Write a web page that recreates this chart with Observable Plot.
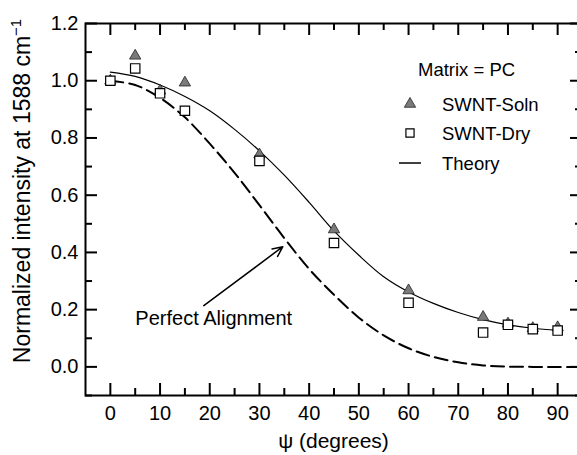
<!DOCTYPE html>
<html>
<head>
<meta charset="utf-8">
<script src="https://cdn.jsdelivr.net/npm/d3@7"></script>
<script src="https://cdn.jsdelivr.net/npm/@observablehq/plot@0.6"></script>
<style>
  html, body { margin: 0; padding: 0; background: #fff; overflow: hidden; }
  #chart { width: 577px; height: 455px; overflow: hidden; }
  #chart svg { max-width: none !important; }
</style>
</head>
<body>
<div id="chart"></div>
<script>
// Measured angles (degrees) and normalized 1588 cm-1 intensities
const angles   = [0, 5, 10, 15, 30, 45, 60, 75, 80, 85, 90];
const swntSoln = [1.0, 1.087, 0.965, 0.993, 0.742, 0.48, 0.267, 0.174, 0.151, 0.135, 0.138];
const swntDry  = [1.0, 1.043, 0.956, 0.895, 0.72, 0.433, 0.224, 0.12, 0.147, 0.132, 0.127];

// Theory curve (solid) sampled every 5 degrees
const theoryAngles = [0, 5, 10, 15, 20, 25, 30, 35, 40, 45, 50, 55, 60, 65, 70, 75, 80, 85, 90];
const theoryValues = [1.03, 1.015, 0.985, 0.945, 0.895, 0.83, 0.755, 0.67, 0.575, 0.475, 0.39, 0.315, 0.262, 0.222, 0.19, 0.165, 0.147, 0.135, 0.128];

// Perfect-alignment curve (dashed)
const perfectAngles = [0, 5, 10, 15, 20, 25, 30, 35, 40, 45, 50, 55, 60, 65, 70, 75, 80, 85, 90, 95];
const perfectValues = [1.0, 0.985, 0.94, 0.872, 0.78, 0.678, 0.565, 0.45, 0.342, 0.252, 0.172, 0.11, 0.065, 0.035, 0.016, 0.005, 0.001, 0, 0, 0];

// Axis ticks
const xMajor = [0, 10, 20, 30, 40, 50, 60, 70, 80, 90];
const xMinor = [5, 15, 25, 35, 45, 55, 65, 75, 85];
const yMajor = [0, 0.2, 0.4, 0.6, 0.8, 1.0, 1.2];
const yMinor = [-0.1, 0.1, 0.3, 0.5, 0.7, 0.9, 1.1];

// Annotation
const noteLabel = [{a: 20.8, v: 0.169, text: "Perfect Alignment"}];
const noteArrow = [{a1: 18.8, v1: 0.214, a2: 34.7, v2: 0.42}];

const solnData = angles.map((a, i) => ({a, v: swntSoln[i]}));
const dryData = angles.map((a, i) => ({a, v: swntDry[i]}));
const theory = theoryAngles.map((a, i) => ({a, v: theoryValues[i]}));
const perfect = perfectAngles.map((a, i) => ({a, v: perfectValues[i]}));

const W = 600, H = 455;
const mL = 85, mR = 18, mT = 23, mB = 60;
const plotH = H - mT - mB;
const plotW = W - mL - mR;
const font = "Arial, 'Liberation Sans', Helvetica, sans-serif";
const majorLen = 12, minorLen = 7;
const triR = 4.2, sqR = 5.3;

const svg = Plot.plot({
  width: W,
  height: H,
  marginLeft: mL, marginRight: mR, marginTop: mT, marginBottom: mB,
  style: {fontFamily: font, background: "white", color: "black", overflow: "visible", maxWidth: "none"},
  x: {domain: [-5, 95]},
  y: {domain: [-0.1, 1.2]},
  marks: [
    // inward ticks on all four sides
    Plot.ruleX(xMajor, {insetTop: plotH - majorLen, strokeWidth: 2}),
    Plot.ruleX(xMinor, {insetTop: plotH - minorLen, strokeWidth: 2}),
    Plot.ruleX(xMajor, {insetBottom: plotH - majorLen, strokeWidth: 2}),
    Plot.ruleX(xMinor, {insetBottom: plotH - minorLen, strokeWidth: 2}),
    Plot.ruleY(yMajor, {insetRight: plotW - majorLen, strokeWidth: 2}),
    Plot.ruleY(yMinor, {insetRight: plotW - minorLen, strokeWidth: 2}),
    Plot.ruleY(yMajor, {insetLeft: plotW - majorLen, strokeWidth: 2}),
    Plot.ruleY(yMinor, {insetLeft: plotW - minorLen, strokeWidth: 2}),
    Plot.frame({strokeWidth: 2}),
    Plot.axisX({ticks: xMajor, tickSize: 0, tickPadding: 10, fontSize: 20, label: null}),
    Plot.axisY({ticks: yMajor, tickSize: 0, tickPadding: 7, fontSize: 20, label: null, tickFormat: d3.format(".1f")}),
    // curves
    Plot.line(perfect, {x: "a", y: "v", curve: "catmull-rom", stroke: "black", strokeWidth: 2, strokeDasharray: "13,6"}),
    Plot.line(theory, {x: "a", y: "v", curve: "catmull-rom", stroke: "black", strokeWidth: 1.2}),
    // measurements
    Plot.dot(solnData, {x: "a", y: "v", symbol: "triangle", r: triR, fill: "#7a7a7a", stroke: "#222", strokeWidth: 0.8}),
    Plot.dot(dryData, {x: "a", y: "v", symbol: "square", r: sqR, fill: "white", stroke: "black", strokeWidth: 1.2}),
    // annotation
    Plot.arrow(noteArrow, {x1: "a1", y1: "v1", x2: "a2", y2: "v2", stroke: "black", strokeWidth: 1.5, headLength: 11, headAngle: 50}),
    Plot.text(noteLabel, {x: "a", y: "v", text: "text", fontSize: 20, fill: "black"})
  ]
});

const root = d3.select(svg);

// Axis titles
const yTitle = root.append("text")
  .attr("transform", "translate(22,191) rotate(-90)")
  .attr("text-anchor", "middle")
  .attr("dominant-baseline", "central")
  .attr("font-family", font)
  .attr("font-size", 23)
  .attr("fill", "black");
yTitle.append("tspan").text("Normalized intensity at 1588 cm");
yTitle.append("tspan").attr("dy", "-0.45em").attr("font-size", "0.65em").text("\u22121");

root.append("text")
  .attr("x", mL + (W - mL - mR) / 2)
  .attr("y", 440)
  .attr("text-anchor", "middle")
  .attr("dominant-baseline", "central")
  .attr("font-family", font)
  .attr("font-size", 21)
  .attr("fill", "black")
  .text("\u03c8 (degrees)");

// Legend
const lg = root.append("g")
  .attr("font-family", font)
  .attr("font-size", 18.5)
  .attr("fill", "black")
  .attr("text-anchor", "start");
lg.append("text").attr("x", 418).attr("y", 69).attr("dominant-baseline", "central").text("Matrix = PC");
lg.append("path")
  .attr("transform", "translate(410,104)")
  .attr("d", d3.symbol(d3.symbolTriangle, Math.PI * triR * triR)())
  .attr("fill", "#7a7a7a").attr("stroke", "#222").attr("stroke-width", 0.8);
lg.append("text").attr("x", 442).attr("y", 104).attr("dominant-baseline", "central").text("SWNT-Soln");
lg.append("path")
  .attr("transform", "translate(410,133)")
  .attr("d", d3.symbol(d3.symbolSquare, Math.PI * 4.6 * 4.6)())
  .attr("fill", "white").attr("stroke", "black").attr("stroke-width", 1.2);
lg.append("text").attr("x", 442).attr("y", 133).attr("dominant-baseline", "central").text("SWNT-Dry");
lg.append("line").attr("x1", 399).attr("x2", 421).attr("y1", 163).attr("y2", 163)
  .attr("stroke", "black").attr("stroke-width", 1.5);
lg.append("text").attr("x", 442).attr("y", 163).attr("dominant-baseline", "central").text("Theory");

document.getElementById("chart").appendChild(svg);
</script>
</body>
</html>
